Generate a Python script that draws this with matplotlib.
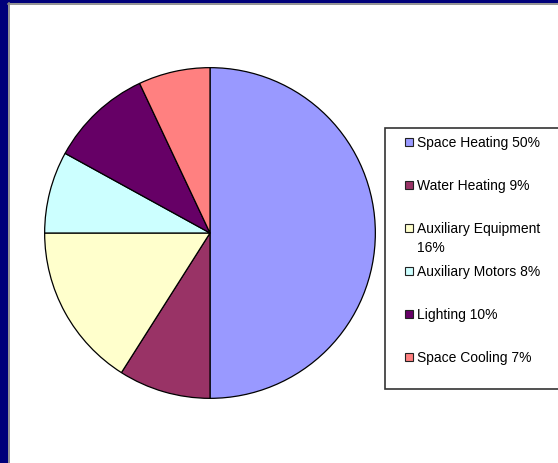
import textwrap

import matplotlib
matplotlib.use("Agg")
import matplotlib.pyplot as plt
from matplotlib.patches import Rectangle

plt.rcParams['font.family'] = ['Liberation Sans', 'DejaVu Sans']

# energy end-use shares (%)
uses = ['Space Heating', 'Water Heating', 'Auxiliary Equipment',
        'Auxiliary Motors', 'Lighting', 'Space Cooling']
shares = [50, 9, 16, 8, 10, 7]
colors = ['#9999FF', '#993366', '#FFFFCC', '#CCFFFF', '#660066', '#FF8080']

W, H = 558, 464
fig = plt.figure(figsize=(W / 100, H / 100), dpi=100)
fig.patch.set_facecolor('white')


def px(x, y):
    # pixel coords measured from the top-left corner -> figure fraction
    return x / W, 1 - y / H


# dark blue slide frame on the left and top with a grey inner rule
fig.patches.append(Rectangle((0, 0), 8 / W, 1, transform=fig.transFigure,
                             facecolor='#00007A', edgecolor='none', zorder=0))
fig.patches.append(Rectangle((0, 1 - 4 / H), 1, 4 / H, transform=fig.transFigure,
                             facecolor='#00007A', edgecolor='none', zorder=0))
fig.add_artist(plt.Line2D([8.5 / W, 8.5 / W], [0, 1 - 4 / H], transform=fig.transFigure,
                          color='#808080', lw=1.2))
fig.add_artist(plt.Line2D([8 / W, 1], [1 - 4.5 / H, 1 - 4.5 / H], transform=fig.transFigure,
                          color='#808080', lw=1.2))

# pie
cx, cy, r = 210, 234, 167
ax = fig.add_axes([(cx - r) / W, 1 - (cy + r) / H, 2 * r / W, 2 * r / H])
ax.pie(shares, colors=colors, startangle=90, counterclock=False, radius=1,
       wedgeprops=dict(edgecolor='black', linewidth=0.9))
ax.set_xlim(-1.01, 1.01)
ax.set_ylim(-1.01, 1.01)
ax.axis('off')

# legend box
x0, y0 = px(385, 390)
x1, y1 = px(600, 129)
fig.patches.append(Rectangle((x0, y0), x1 - x0, y1 - y0, transform=fig.transFigure,
                             facecolor='white', edgecolor='#333333', lw=1.2, zorder=1))

for i, (name, val, col) in enumerate(zip(uses, shares, colors)):
    y = 143 + 43 * i
    sx, sy = px(405, y + 4)
    fig.patches.append(Rectangle((sx, sy), 8 / W, 8 / H, transform=fig.transFigure,
                                 facecolor=col, edgecolor='#222222', lw=0.8, zorder=2))
    label = textwrap.fill(f'{name} {val}%', 20)
    for j, line in enumerate(label.split('\n')):
        tx, ty = px(417, y + 19 * j)
        fig.text(tx, ty, line, fontsize=10, ha='left', va='center', zorder=3)

fig.savefig('out.png', dpi=100)
